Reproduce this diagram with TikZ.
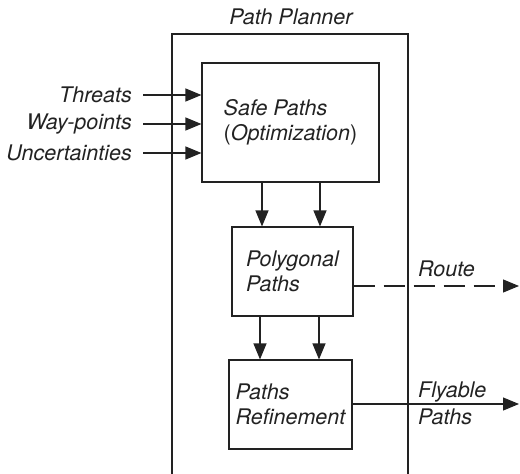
\documentclass[tikz,border=0pt]{standalone}
\usepackage{fontspec}
\setmainfont{TeX Gyre Heros}
\usetikzlibrary{arrows.meta}
\definecolor{ink}{HTML}{222222}
\tikzset{
  lbl/.style={font=\fontsize{21.5}{25}\selectfont\itshape, text=ink, inner sep=0pt},
  blockbox/.style={draw=ink, line width=1.1pt, align=left,
    font=\fontsize{21.5}{24.5}\selectfont\itshape, text=ink, inner sep=0pt},
  arr/.style={draw=ink, line width=1.1pt, -{Triangle[length=16pt,width=13pt]}},
}
\begin{document}
\begin{tikzpicture}[x=1pt,y=-1pt]
\useasboundingbox (0,0) rectangle (520,474);
\clip (0,0) rectangle (520,474);

% enclosing planner frame (runs past the lower edge)
\draw[ink, line width=1.1pt] (172,490) |- (408,34) -- (408,490);
\node[lbl] (title) at (291,17) {Path Planner};

% processing stages
\node[blockbox, minimum width=177pt, minimum height=119pt] (safe) at (290.5,122.5)
  {Safe Paths\\{\upshape(}Optimization{\upshape)}};
\node[blockbox, minimum width=121pt, minimum height=89pt] (poly) at (292.5,271.5)
  {Polygonal\\Paths};
\node[blockbox, minimum width=123pt, minimum height=89pt] (refine) at (290.5,404.5)
  {Paths\\Refinement};

% inputs
\node[lbl, anchor=east] (threats) at (132,95) {Threats};
\node[lbl, anchor=east] (waypts) at (132,124) {Way-points};
\node[lbl, anchor=east] (uncert) at (132,153) {Uncertainties};
\foreach \n in {threats,waypts,uncert}
  \draw[arr, shorten <=11pt] (\n.east) -- (\n.east -| safe.west);

% stage to stage
\draw[arr] (safe.south -| 262,0) -- (poly.north -| 262,0);
\draw[arr] (safe.south -| 320,0) -- (poly.north -| 320,0);
\draw[arr] (poly.south -| 260,0) -- (refine.north -| 260,0);
\draw[arr] (poly.south -| 319,0) -- (refine.north -| 319,0);

% outputs
\coordinate (routeEnd) at (519,286);
\coordinate (flyEnd) at (519,404);
\draw[arr, dash pattern=on 21pt off 9pt] (poly.east |- routeEnd) -- (routeEnd);
\draw[arr] (refine.east |- flyEnd) -- (flyEnd);
\node[lbl, anchor=west] (routeLbl) at (418,269) {Route};
\node[lbl, anchor=west, align=left, font=\fontsize{21.5}{27}\selectfont\itshape] (flyLbl) at (418,403.5) {Flyable\\Paths};
\end{tikzpicture}
\end{document}
